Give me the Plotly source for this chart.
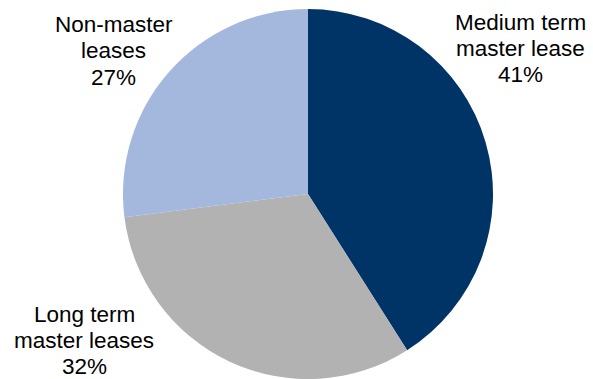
import plotly.graph_objects as go

labels = ["Medium term master lease", "Long term master leases", "Non-master leases"]
values = [41, 32, 27]
colors = ["#003366", "#B2B2B2", "#A4B8DE"]
label_lines = [["Medium term", "master lease", "41%"],
               ["Long term", "master leases", "32%"],
               ["Non-master", "leases", "27%"]]
# label block centre x and first-line y (pixels), line step
label_pos = [(520, 22), (84, 314), (114, 24.5)]
line_step = 26.3

W, H = 593, 379
fig = go.Figure(go.Pie(
    labels=labels, values=values, sort=False, direction="clockwise", rotation=0,
    marker=dict(colors=colors, line=dict(width=0)),
    textinfo="none", hoverinfo="label+percent", showlegend=False,
    domain=dict(x=[123 / W, 493 / W], y=[0, 370 / H]),
))
for lines, (x, y0) in zip(label_lines, label_pos):
    for i, t in enumerate(lines):
        y = y0 + i * line_step
        fig.add_annotation(text=t, x=x / W, y=1 - y / H, xref="paper", yref="paper",
                           showarrow=False, xanchor="center", yanchor="middle",
                           font=dict(family="Liberation Sans, Arial", size=22.5, color="#000000"))
fig.update_layout(width=W, height=H, margin=dict(l=0, r=0, t=0, b=0),
                  paper_bgcolor="white", plot_bgcolor="white")
fig.write_html("out.html", config={"displayModeBar": False},
               post_script="document.body.style.margin='0';document.body.style.overflow='hidden';")
